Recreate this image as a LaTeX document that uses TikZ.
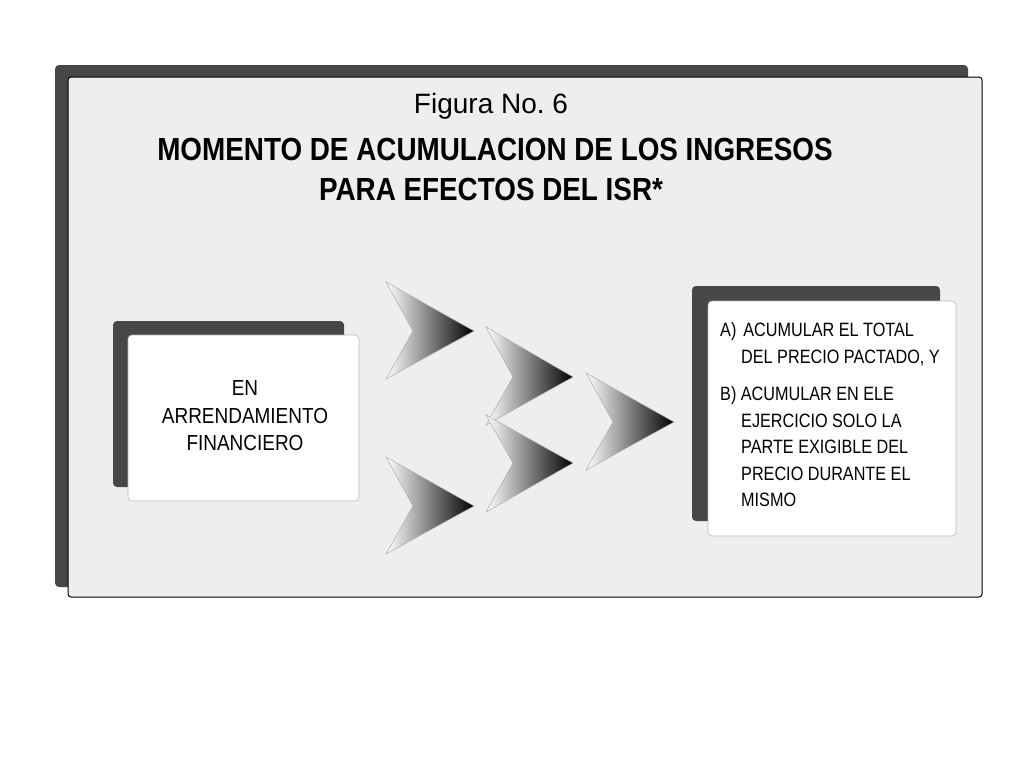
\documentclass[tikz,border=0pt]{standalone}
\usepackage{fontspec}
\setmainfont{Liberation Sans}
\newfontfamily\narrowf[FakeStretch=0.87]{Liberation Sans}
\newfontfamily\narrowr[FakeStretch=0.84]{Liberation Sans}
\definecolor{shadowc}{HTML}{474747}
\definecolor{panelc}{HTML}{EEEEEE}
\begin{document}
\begin{tikzpicture}[x=1pt,y=-1pt,
  shadowbox/.style={fill=shadowc,draw=none,rounded corners=4pt},
  panel/.style={fill=panelc,draw=black,line width=1pt,rounded corners=3pt},
  card/.style={fill=white,draw=gray!55,line width=0.6pt,rounded corners=4pt},
  chev/.style={draw=gray!65,line width=0.5pt,left color=white,middle color=black!25,right color=black},
  ttl/.style={inner sep=0pt,anchor=base,font=\fontsize{28}{32}\selectfont},
  bttl/.style={inner sep=0pt,anchor=base,font=\narrowf\bfseries\fontsize{32}{36}\selectfont},
  ltxt/.style={inner sep=0pt,anchor=base,font=\narrowf\fontsize{21.8}{25}\selectfont},
  rtxt/.style={inner sep=0pt,anchor=base west,font=\narrowr\fontsize{19.3}{23}\selectfont}]
\useasboundingbox (0,0) rectangle (1024,768);
\fill[white] (0,0) rectangle (1024,768);
% main panel
\fill[shadowbox] (55,65) rectangle (968,587);
\draw[panel] (68,77) rectangle (982,597);
% titles
\node[ttl] (fig) at (491,113) {Figura No.\ 6};
\node[bttl] (t1) at (495,160) {MOMENTO DE ACUMULACION DE LOS INGRESOS};
\node[bttl] (t2) at (491,200) {PARA EFECTOS DEL ISR*};
% left box
\fill[shadowbox] (113,321) rectangle (344,487);
\draw[card] (128,335) rectangle (359,501);
\node[ltxt] (l1) at (245,395.5) {EN};
\node[ltxt] (l2) at (245,423) {ARRENDAMIENTO};
\node[ltxt] (l3) at (245,450.5) {FINANCIERO};
% right box
\fill[shadowbox] (692,286) rectangle (940,521);
\draw[card] (708,301) rectangle (956,536);
\node[rtxt] (a1) at (720,336) {A)\hspace{7pt}ACUMULAR EL TOTAL};
\node[rtxt] (a2) at (741,363) {DEL PRECIO PACTADO, Y};
\node[rtxt] (b1) at (720,400) {B) ACUMULAR EN ELE};
\node[rtxt] (b2) at (741,427) {EJERCICIO SOLO LA};
\node[rtxt] (b3) at (741,453) {PARTE EXIGIBLE DEL};
\node[rtxt] (b4) at (741,480) {PRECIO DURANTE EL};
\node[rtxt] (b5) at (741,506) {MISMO};
% chevrons
\draw[chev] (386,282) -- (474,331) -- (386,379) -- (413,331) -- cycle;
\draw[chev] (386,457) -- (474,506) -- (386,554) -- (413,506) -- cycle;
\draw[chev] (486,327) -- (573,377) -- (486,425) -- (513,377) -- cycle;
\draw[chev] (486,415) -- (573,463) -- (486,512) -- (513,463) -- cycle;
\draw[chev] (586,373) -- (674,422) -- (586,470) -- (613,422) -- cycle;
\end{tikzpicture}
\end{document}
